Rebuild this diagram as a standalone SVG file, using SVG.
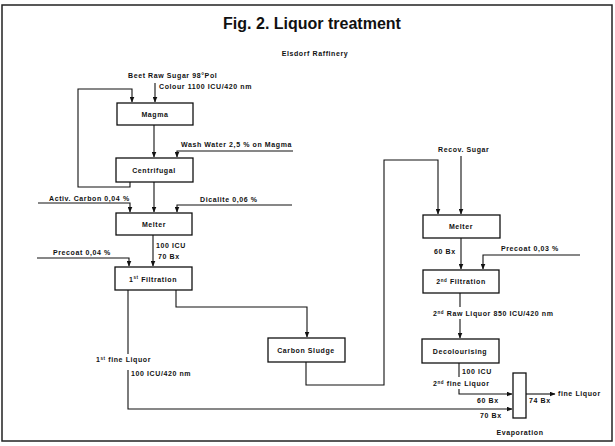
<svg xmlns="http://www.w3.org/2000/svg" width="615" height="446" viewBox="0 0 615 446">
<style>
.t{font-family:"Liberation Sans",Arial,sans-serif;font-weight:bold;font-size:7px;letter-spacing:0.6px;fill:#111}
.m{text-anchor:middle}
.box{fill:#fff;stroke:#111;stroke-width:1.3}
.ln{fill:none;stroke:#111;stroke-width:1.1}
.ttl{font-family:"Liberation Sans",Arial,sans-serif;font-weight:bold;font-size:16px;fill:#111;text-anchor:middle}
</style>
<defs>
<marker id="ah" markerWidth="6" markerHeight="5" refX="5.5" refY="2.5" orient="auto" markerUnits="userSpaceOnUse">
<path d="M0,0 L6,2.5 L0,5 z" fill="#111"/>
</marker>
</defs>
<rect x="0" y="0" width="615" height="446" fill="#fff"/>
<rect x="2" y="5" width="610" height="436" fill="none" stroke="#222" stroke-width="1.5"/>
<text class="ttl" x="312" y="29">Fig. 2. Liquor treatment</text>
<text class="t m" x="315" y="56">Elsdorf Raffinery</text>

<g id="connectors">
<path class="ln" d="M155,83 V102" marker-end="url(#ah)"/>
<path class="ln" d="M130,182 V187 H78 V89 H132 V102" marker-end="url(#ah)"/>
<path class="ln" d="M154,125 V157" marker-end="url(#ah)"/>
<path class="ln" d="M293,151 H177 V157" marker-end="url(#ah)"/>
<path class="ln" d="M154,182 V212" marker-end="url(#ah)"/>
<path class="ln" d="M38,203 H130 V212" marker-end="url(#ah)"/>
<path class="ln" d="M292,205 H177 V212" marker-end="url(#ah)"/>
<path class="ln" d="M153,235 V266" marker-end="url(#ah)"/>
<path class="ln" d="M37,258 H129 V266" marker-end="url(#ah)"/>
<path class="ln" d="M128,290 V354"/>
<path class="ln" d="M128,370 V409 H512" marker-end="url(#ah)"/>
<path class="ln" d="M176,290 V307 H307 V337" marker-end="url(#ah)"/>
<path class="ln" d="M306,362 V385 H384 V160 H438 V214" marker-end="url(#ah)"/>
<path class="ln" d="M461,156 V214" marker-end="url(#ah)"/>
<path class="ln" d="M461,238 V269" marker-end="url(#ah)"/>
<path class="ln" d="M580,255 H483 V269" marker-end="url(#ah)"/>
<path class="ln" d="M460,293 V307"/>
<path class="ln" d="M460,319 V338" marker-end="url(#ah)"/>
<path class="ln" d="M459,363 V377"/>
<path class="ln" d="M459,389 V394 H512" marker-end="url(#ah)"/>
<path class="ln" d="M526,394 H555" marker-end="url(#ah)"/>
</g>

<g id="magma"><rect class="box" x="117" y="103" width="76" height="22"/><text class="t m" x="155" y="116.5">Magma</text></g>
<g id="centrifugal"><rect class="box" x="116" y="158" width="77" height="24"/><text class="t m" x="154" y="172.5">Centrifugal</text></g>
<g id="melter1"><rect class="box" x="116" y="213" width="76" height="22"/><text class="t m" x="154" y="226.5">Melter</text></g>
<g id="filtration1"><rect class="box" x="115" y="267" width="77" height="23"/><text class="t m" x="153" y="281.5">1<tspan font-size="4.5" dy="-2.5">st</tspan><tspan dy="2.5"> Filtration</tspan></text></g>
<g id="carbon-sludge"><rect class="box" x="268" y="338" width="77" height="24"/><text class="t m" x="306" y="353">Carbon Sludge</text></g>
<g id="melter2"><rect class="box" x="423" y="215" width="77" height="23"/><text class="t m" x="461" y="229">Melter</text></g>
<g id="filtration2"><rect class="box" x="423" y="270" width="76" height="23"/><text class="t m" x="461" y="284">2<tspan font-size="4.5" dy="-2.5">nd</tspan><tspan dy="2.5"> Filtration</tspan></text></g>
<g id="decolourising"><rect class="box" x="422" y="339" width="77" height="24"/><text class="t m" x="460" y="353.5">Decolourising</text></g>
<g id="evaporation"><rect class="box" x="513" y="373" width="13" height="45"/><text class="t m" x="520" y="435">Evaporation</text></g>

<g id="labels">
<text class="t" x="128" y="78">Beet Raw Sugar 98°Pol</text>
<text class="t" x="159" y="88.5">Colour 1100 ICU/420 nm</text>
<text class="t" x="181" y="147">Wash Water 2,5 % on Magma</text>
<text class="t" x="49" y="200.5">Activ. Carbon 0,04 %</text>
<text class="t" x="200" y="202">Dicalite 0,06 %</text>
<text class="t" x="156" y="247.5">100 ICU</text>
<text class="t" x="158" y="258.5">70 Bx</text>
<text class="t" x="53" y="254.5">Precoat 0,04 %</text>
<text class="t" x="96" y="362">1<tspan font-size="4.5" dy="-2.5">st</tspan><tspan dy="2.5"> fine Liquor</tspan></text>
<text class="t" x="131" y="376">100 ICU/420 nm</text>
<text class="t" x="480" y="418">70 Bx</text>
<text class="t" x="438" y="152">Recov. Sugar</text>
<text class="t" x="434" y="254">60 Bx</text>
<text class="t" x="501" y="251">Precoat 0,03 %</text>
<text class="t" x="433" y="316">2<tspan font-size="4.5" dy="-2.5">nd</tspan><tspan dy="2.5"> Raw Liquor 850 ICU/420 nm</tspan></text>
<text class="t" x="462" y="374">100 ICU</text>
<text class="t" x="433" y="386">2<tspan font-size="4.5" dy="-2.5">nd</tspan><tspan dy="2.5"> fine Liquor</tspan></text>
<text class="t" x="477" y="403">60 Bx</text>
<text class="t" x="529" y="403">74 Bx</text>
<text class="t" x="558" y="396">fine Liquor</text>
</g>
</svg>
